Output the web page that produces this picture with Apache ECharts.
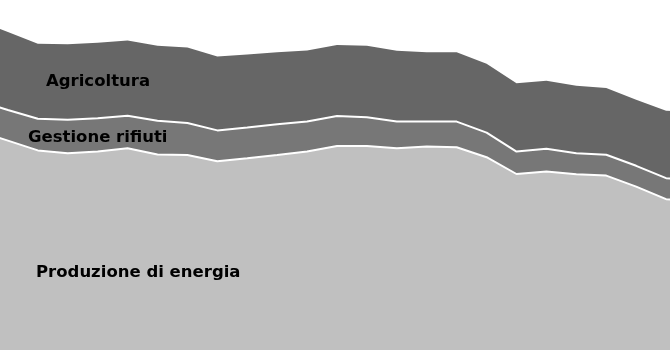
<!DOCTYPE html>
<html>
<head>
<meta charset="utf-8">
<script src="https://cdn.jsdelivr.net/npm/echarts@6/dist/echarts.min.js"></script>
<style>
  html, body { margin: 0; padding: 0; background: #ffffff; overflow: hidden; }
  #wrap { position: relative; width: 670px; height: 350px; overflow: hidden; }
  #chart { position: absolute; left: -22px; top: 0; width: 718px; height: 350px; }
</style>
</head>
<body>
<div id="wrap"><div id="chart"></div></div>
<script>
// Data (arbitrary units), one value per year
const years = ['1989','1990','1991','1992','1993','1994','1995','1996','1997','1998','1999','2000',
               '2001','2002','2003','2004','2005','2006','2007','2008','2009','2010','2011','2012','2013'];
const energia = [109.5, 104.7, 99.8, 98.4, 99.2, 100.9, 97.7, 97.5, 94.4, 95.9, 97.5, 99.2,
                 102.0, 102.0, 100.9, 101.7, 101.4, 96.4, 88.0, 89.2, 87.9, 87.2, 81.7, 75.4, 74.5];
const rifiuti = [15.2, 15.3, 15.8, 16.7, 16.7, 16.2, 16.9, 16.0, 15.4, 15.3, 15.4, 15.0,
                 15.0, 14.4, 13.3, 12.5, 12.8, 12.3, 11.2, 11.4, 10.5, 10.4, 10.4, 10.5, 10.5];
const agricoltura = [40.1, 39.0, 37.5, 37.8, 37.7, 37.7, 37.5, 37.8, 36.9, 36.6, 36.0, 35.5,
                     35.5, 35.7, 35.4, 34.7, 34.7, 34.4, 34.2, 34.0, 33.7, 33.4, 33.0, 33.7, 34.0];
const seriesNames = ['Produzione di energia', 'Gestione rifiuti', 'Agricoltura'];

const chart = echarts.init(document.getElementById('chart'), null, { renderer: 'canvas' });
const labelFont = 'bold 16.5px "DejaVu Sans", sans-serif';
const off = 22; // chart canvas is shifted left by this many pixels
chart.setOption({
  animation: false,
  backgroundColor: '#ffffff',
  grid: { left: 0, right: 0, top: 0, bottom: 0, containLabel: false },
  xAxis: { type: 'category', data: years, boundaryGap: false, show: false },
  yAxis: { type: 'value', min: 0, max: 175, show: false, splitLine: { show: false } },
  series: [
    { name: seriesNames[0], type: 'line', stack: 'total', data: energia, symbol: 'none',
      lineStyle: { color: '#ffffff', width: 2 }, areaStyle: { color: '#c0c0c0', opacity: 1 }, z: 3 },
    { name: seriesNames[1], type: 'line', stack: 'total', data: rifiuti, symbol: 'none',
      lineStyle: { color: '#ffffff', width: 2 }, areaStyle: { color: '#777777', opacity: 1 }, z: 2 },
    { name: seriesNames[2], type: 'line', stack: 'total', data: agricoltura, symbol: 'none',
      lineStyle: { color: '#666666', width: 0 }, areaStyle: { color: '#666666', opacity: 1 }, z: 1 }
  ],
  graphic: [
    { type: 'text', left: 46 + off, top: 73, z: 10, style: { text: seriesNames[2], font: labelFont, fill: '#000000' } },
    { type: 'text', left: 28 + off, top: 129, z: 10, style: { text: seriesNames[1], font: labelFont, fill: '#000000' } },
    { type: 'text', left: 36 + off, top: 264, z: 10, style: { text: seriesNames[0], font: labelFont, fill: '#000000' } }
  ]
});
</script>
</body>
</html>
